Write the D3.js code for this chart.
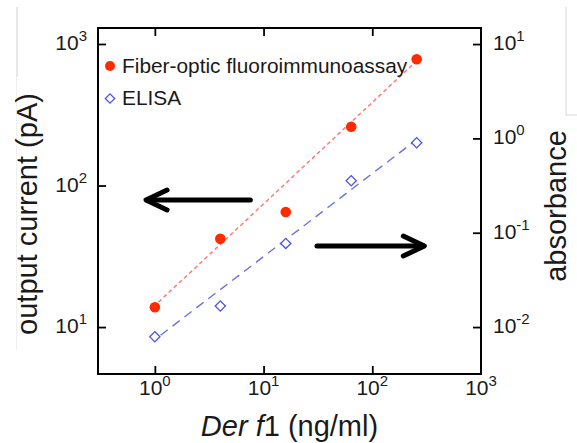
<!DOCTYPE html>
<html><head><meta charset="utf-8">
<script src="https://cdn.jsdelivr.net/npm/d3@7"></script>
<style>
body{margin:0;background:#fff}
svg{display:block}
text{font-family:"Liberation Sans",Arial,sans-serif;fill:#1a1a1a}
</style>
</head><body>
<svg id="c" width="577" height="443"></svg>
<script>
// ---- data ----
const conc = [1, 4, 16, 64, 256];                 // Der f1 (ng/ml)
const currentPA = [13.8, 42, 65, 260, 780];       // fiber-optic output current (pA)
const absorbance = [0.0079, 0.0167, 0.077, 0.356, 0.90]; // ELISA absorbance
const fitConcFOI = [1.08, 250];
const fitCurrent = [15.0, 747];
const fitConcElisa = [1.13, 253];
const fitAbs = [0.0082, 0.96];
const xTicks = [1, 10, 100, 1000];
const xTickExp = ["0", "1", "2", "3"];
const yLeftTicks = [10, 100, 1000];
const yLeftExp = ["1", "2", "3"];
const yRightTicks = [0.01, 0.1, 1, 10];
const yRightExp = ["-2", "-1", "0", "1"];
const seriesNames = ["Fiber-optic fluoroimmunoassay", "ELISA"];
// annotation arrows in data coords
const arrowLeft = {x0: 7.56, x1: 0.83, y: 79, axis: "left"};
const arrowRight = {x0: 31, x1: 301, y: 0.0723, axis: "right"};

// ---- layout ----
const svg = d3.select("#c");
const L = 98, R = 481, T = 28, B = 374;
const x = d3.scaleLog().domain([0.3, 1000]).range([L, R]);
const yL = d3.scaleLog().domain([4.66, 1297]).range([B, T]);
const yR = d3.scaleLog().domain([0.00318, 14.8]).range([B, T]);

const red = "#ff2a00", redLine = "#ff7373";
const blue = "#5252e6", blueLine = "#6f6fea";

// faint screenshot artefact lines
svg.append("line").attr("x1",17).attr("x2",17).attr("y1",7).attr("y2",77).attr("stroke","#cfcfcf").attr("stroke-width",1);
svg.append("line").attr("x1",16.5).attr("x2",16.5).attr("y1",77).attr("y2",350).attr("stroke","#f0f0f0").attr("stroke-width",1);
svg.append("line").attr("x1",566).attr("x2",566).attr("y1",7).attr("y2",115).attr("stroke","#d6d6d6").attr("stroke-width",1);
svg.append("line").attr("x1",566).attr("x2",577).attr("y1",115).attr("y2",115).attr("stroke","#d6d6d6").attr("stroke-width",1);

// ---- axes (inward ticks) ----
const tk = 8;
const axB = svg.append("g").attr("transform",`translate(0,${B})`).call(d3.axisBottom(x).tickValues(xTicks.slice(0,3)).tickSize(-tk).tickFormat(""));
const axT = svg.append("g").attr("transform",`translate(0,${T})`).call(d3.axisTop(x).tickValues(xTicks.slice(0,3)).tickSize(-tk).tickFormat(""));
const axL = svg.append("g").attr("transform",`translate(${L},0)`).call(d3.axisLeft(yL).tickValues(yLeftTicks).tickSize(-tk).tickFormat(""));
const axR = svg.append("g").attr("transform",`translate(${R},0)`).call(d3.axisRight(yR).tickValues(yRightTicks).tickSize(-tk).tickFormat(""));
[axB,axT,axL,axR].forEach(a=>{a.select(".domain").remove();a.selectAll("line").attr("stroke","#000").attr("stroke-width",1.8);});
svg.append("rect").attr("x",L).attr("y",T).attr("width",R-L).attr("height",B-T)
  .attr("fill","none").attr("stroke","#000").attr("stroke-width",2);

function powLabel(sel, exp){
  sel.append("tspan").text("10").attr("font-size",21);
  sel.append("tspan").text(exp).attr("font-size",15).attr("dy",-9);
}
xTicks.forEach((v,i)=>{
  const t = svg.append("text").attr("x",x(v)).attr("y",395).attr("text-anchor","middle");
  powLabel(t, xTickExp[i]);
});
yLeftTicks.forEach((v,i)=>{
  const t = svg.append("text").attr("x",L-11).attr("y",yL(v)+6).attr("text-anchor","end");
  powLabel(t, yLeftExp[i]);
});
yRightTicks.forEach((v,i)=>{
  const t = svg.append("text").attr("x",R+12).attr("y",yR(v)+6).attr("text-anchor","start");
  powLabel(t, yRightExp[i]);
});

// axis titles
const xt = svg.append("text").attr("x",(L+R)/2).attr("y",436).attr("text-anchor","middle").attr("font-size",29);
xt.append("tspan").text("Der f").attr("font-style","italic");
xt.append("tspan").text("1 (ng/ml)");
svg.append("text").attr("transform",`translate(37,214) rotate(-90)`).attr("text-anchor","middle").attr("font-size",29).text("output current (pA)");
svg.append("text").attr("transform",`translate(566,206) rotate(-90)`).attr("text-anchor","middle").attr("font-size",29).text("absorbance");

// ---- fit lines ----
const lineL = d3.line().x(d=>x(d[0])).y(d=>yL(d[1]));
const lineR = d3.line().x(d=>x(d[0])).y(d=>yR(d[1]));
svg.append("path").attr("d",lineL(d3.zip(fitConcFOI,fitCurrent))).attr("fill","none")
  .attr("stroke",redLine).attr("stroke-width",1.4).attr("stroke-dasharray","4,3");
svg.append("path").attr("d",lineR(d3.zip(fitConcElisa,fitAbs))).attr("fill","none")
  .attr("stroke",blueLine).attr("stroke-width",1.4).attr("stroke-dasharray","9,6");

// ---- points ----
svg.append("g").selectAll("circle").data(d3.zip(conc,currentPA)).join("circle")
  .attr("cx",d=>x(d[0])).attr("cy",d=>yL(d[1])).attr("r",5.3).attr("fill",red);
svg.append("g").selectAll("path").data(d3.zip(conc,absorbance)).join("path")
  .attr("transform",d=>`translate(${x(d[0])},${yR(d[1])}) rotate(45)`)
  .attr("d",d3.symbol().type(d3.symbolSquare).size(52)).attr("fill","#fff").attr("stroke",blue).attr("stroke-width",1.3);

// ---- legend ----
svg.append("circle").attr("cx",110).attr("cy",66).attr("r",5).attr("fill",red);
svg.append("text").attr("transform","translate(122,73) scale(1.07,1)").attr("font-size",19.5).text(seriesNames[0]);
svg.append("path").attr("transform","translate(110,98.5) rotate(45)").attr("d",d3.symbol().type(d3.symbolSquare).size(44)())
  .attr("fill","#fff").attr("stroke",blue).attr("stroke-width",1.3);
svg.append("text").attr("transform","translate(122,105) scale(1.07,1)").attr("font-size",19.5).text(seriesNames[1]);

// ---- arrows ----
function arrow(a){
  const ys = a.axis==="left" ? yL : yR;
  const x0 = x(a.x0), x1 = x(a.x1), yy = ys(a.y);
  const dir = x1 > x0 ? 1 : -1;
  const g = svg.append("g").attr("stroke","#000").attr("stroke-width",5).attr("fill","none")
    .attr("stroke-linecap","round").attr("stroke-linejoin","round");
  g.append("line").attr("x1",x0).attr("x2",x1 - dir*1).attr("y1",yy).attr("y2",yy);
  g.append("path").attr("d",`M${x1-dir*21},${yy-10} L${x1},${yy} L${x1-dir*21},${yy+10}`);
}
arrow(arrowLeft);
arrow(arrowRight);
</script>
</body></html>
